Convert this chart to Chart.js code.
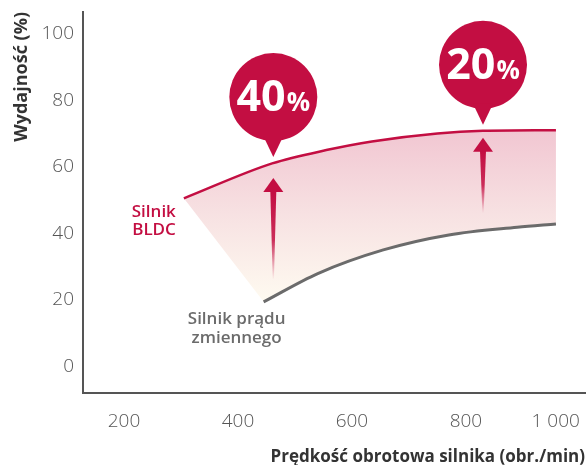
<!DOCTYPE html>
<html>
<head>
<meta charset="utf-8">
<script src="https://cdn.jsdelivr.net/npm/chart.js@4/dist/chart.umd.min.js"></script>
<style>
  html, body { margin: 0; padding: 0; background: #fff; }
  #wrap { width: 587px; height: 465px; position: relative; }
</style>
</head>
<body>
<div id="wrap"><canvas id="effChart"></canvas></div>
<script>
// axis ticks
const speedTicks = [200, 400, 600, 800, 1000];
const effTicks = [0, 20, 40, 60, 80, 100];

// efficiency curves (speed in rpm, efficiency in %)
const bldcSpeed = [305, 460, 555, 635, 750, 830, 958];
const bldcEff = [50.5, 61, 65, 67.6, 70, 70.8, 71];
const acSpeed = [445, 540, 655, 770, 890, 958];
const acEff = [19.4, 27.9, 35, 39.5, 41.8, 42.8];

// gain markers: arrows and callouts
const gainSpeed = [462, 830];
const gainLabels = ['40', '20'];
const arrowFrom = [26, 46];
const arrowTo = [56.6, 68.7];

const RED = '#c30e42';
const GREY = '#6b6b6b';
const FONT = "'Open Sans', 'DejaVu Sans', sans-serif";

function toPoints(xs, ys) {
    return xs.map((x, i) => ({ x: x, y: ys[i] }));
}

// shaded band between the two curves, closed by a straight edge on the left
const bandPlugin = {
    id: 'band',
    beforeDatasetsDraw(chart) {
        const { ctx, chartArea, scales } = chart;
        const upper = chart.getDatasetMeta(0).dataset;
        const lower = chart.getDatasetMeta(1).dataset;
        upper.updateControlPoints(chartArea, 'x');
        lower.updateControlPoints(chartArea, 'x');

        const g = ctx.createLinearGradient(0, scales.y.getPixelForValue(72), 0, scales.y.getPixelForValue(20));
        g.addColorStop(0, '#f1c5d1');
        g.addColorStop(0.5, '#f7e1e2');
        g.addColorStop(1, '#fefaf0');

        ctx.save();
        ctx.beginPath();
        upper.pathSegment(ctx, upper.segments[0]);
        lower.pathSegment(ctx, lower.segments[0], { move: false, reverse: true });
        ctx.closePath();
        ctx.fillStyle = g;
        ctx.fill();
        ctx.restore();
    }
};

// arrows, bubbles and curve names
const markPlugin = {
    id: 'marks',
    afterDatasetsDraw(chart) {
        const { ctx, scales } = chart;
        const xs = scales.x, ys = scales.y;
        const upper = chart.getDatasetMeta(0).dataset;

        ctx.save();

        // tapered arrows
        gainSpeed.forEach((v, i) => {
            const x = xs.getPixelForValue(v);
            const yTip = ys.getPixelForValue(arrowTo[i]);
            const yEnd = ys.getPixelForValue(arrowFrom[i]);
            const yBase = yTip + 14;
            const g = ctx.createLinearGradient(0, yBase, 0, yEnd);
            g.addColorStop(0, RED);
            g.addColorStop(0.55, 'rgba(195,14,66,0.85)');
            g.addColorStop(1, 'rgba(195,14,66,0)');
            ctx.fillStyle = g;
            ctx.beginPath();
            ctx.moveTo(x - 3, yBase - 1);
            ctx.lineTo(x + 3, yBase - 1);
            ctx.lineTo(x + 0.6, yEnd);
            ctx.lineTo(x - 0.6, yEnd);
            ctx.closePath();
            ctx.fill();

            ctx.fillStyle = RED;
            ctx.beginPath();
            ctx.moveTo(x, yTip);
            ctx.lineTo(x + 10, yBase);
            ctx.lineTo(x - 10, yBase);
            ctx.closePath();
            ctx.fill();
        });

        // percentage bubbles pointing at the BLDC curve
        gainSpeed.forEach((v, i) => {
            const x = xs.getPixelForValue(v);
            const pt = upper.interpolate({ x: x }, 'x');
            const tipY = pt.y - 6;
            const r = 44;
            const cy = tipY - 60;

            ctx.fillStyle = RED;
            ctx.beginPath();
            ctx.arc(x, cy, r, 0, Math.PI * 2);
            ctx.fill();
            ctx.beginPath();
            ctx.moveTo(x - 10, cy + r - 5);
            ctx.lineTo(x + 10, cy + r - 5);
            ctx.lineTo(x, tipY);
            ctx.closePath();
            ctx.fill();

            const big = 'bold 43px ' + FONT;
            const small = 'bold 26px ' + FONT;
            ctx.font = big;
            const wBig = ctx.measureText(gainLabels[i]).width;
            ctx.font = small;
            const wSmall = ctx.measureText('%').width;
            const x0 = x - (wBig + wSmall + 1) / 2;
            ctx.fillStyle = '#fff';
            ctx.textAlign = 'left';
            ctx.textBaseline = 'alphabetic';
            ctx.font = big;
            ctx.fillText(gainLabels[i], x0, cy + 14);
            ctx.font = small;
            ctx.fillText('%', x0 + wBig + 1, cy + 14);
        });

        // curve names next to their first points
        const bStart = chart.getDatasetMeta(0).data[0];
        const aStart = chart.getDatasetMeta(1).data[0];
        ctx.font = '600 17px ' + FONT;
        ctx.textBaseline = 'middle';
        ctx.fillStyle = RED;
        ctx.textAlign = 'right';
        ctx.fillText('Silnik', bStart.x - 8, bStart.y + 14);
        ctx.fillText('BLDC', bStart.x - 8, bStart.y + 32);
        ctx.fillStyle = GREY;
        ctx.textAlign = 'center';
        ctx.fillText('Silnik prądu', aStart.x - 27, aStart.y + 17);
        ctx.fillText('zmiennego', aStart.x - 27, aStart.y + 36);

        ctx.restore();
    }
};

const ctx = document.getElementById('effChart').getContext('2d');
const effChart = new Chart(ctx, {
    type: 'line',
    data: {
        datasets: [{
            label: 'Silnik BLDC',
            data: toPoints(bldcSpeed, bldcEff),
            borderColor: RED,
            borderWidth: 2.5,
            pointRadius: 0,
            cubicInterpolationMode: 'monotone',
            fill: false
        }, {
            label: 'Silnik prądu zmiennego',
            data: toPoints(acSpeed, acEff),
            borderColor: GREY,
            borderWidth: 3,
            pointRadius: 0,
            cubicInterpolationMode: 'monotone',
            fill: false
        }]
    },
    options: {
        responsive: true,
        maintainAspectRatio: false,
        animation: false,
        layout: { padding: { top: 12, right: 2, left: 0, bottom: 0 } },
        plugins: {
            legend: { display: false },
            tooltip: { enabled: false }
        },
        scales: {
            x: {
                type: 'linear',
                min: 128,
                max: 1009,
                grid: { display: false, drawTicks: false },
                border: { display: true, color: '#555', width: 2 },
                afterBuildTicks: (scale) => {
                    scale.ticks = [{ value: 128 }].concat(speedTicks.map(v => ({ value: v })));
                },
                afterFit: (scale) => {
                    scale.height = 72;
                    scale.paddingLeft = 0;
                    scale.paddingRight = 0;
                },
                ticks: {
                    autoSkip: false,
                    maxRotation: 0,
                    align: 'inner',
                    padding: 17,
                    color: '#555',
                    font: { family: FONT, size: 19, weight: '300' },
                    callback: (v) => v === 1000 ? '1 000' : (speedTicks.includes(v) ? String(v) : '')
                },
                title: {
                    display: true,
                    text: 'Prędkość obrotowa silnika (obr./min)',
                    align: 'end',
                    color: '#333',
                    font: { family: FONT, size: 17, weight: 'bold', lineHeight: 1 },
                    padding: { top: 0, bottom: -1 }
                }
            },
            y: {
                min: -8,
                max: 106.5,
                grid: { display: false, drawTicks: false },
                border: { display: true, color: '#555', width: 2 },
                afterBuildTicks: (scale) => {
                    scale.ticks = effTicks.map(v => ({ value: v }));
                },
                afterFit: (scale) => {
                    scale.width = 83;
                    scale.paddingTop = 0;
                    scale.paddingBottom = 0;
                },
                ticks: {
                    padding: 9,
                    color: '#555',
                    font: { family: FONT, size: 19, weight: '300' }
                },
                title: {
                    display: true,
                    text: 'Wydajność (%)',
                    align: 'end',
                    color: '#333',
                    font: { family: FONT, size: 18, weight: 'bold', lineHeight: 1.2 },
                    padding: { top: 11, bottom: 0 }
                }
            }
        }
    },
    plugins: [bandPlugin, markPlugin]
});
</script>
</body>
</html>
